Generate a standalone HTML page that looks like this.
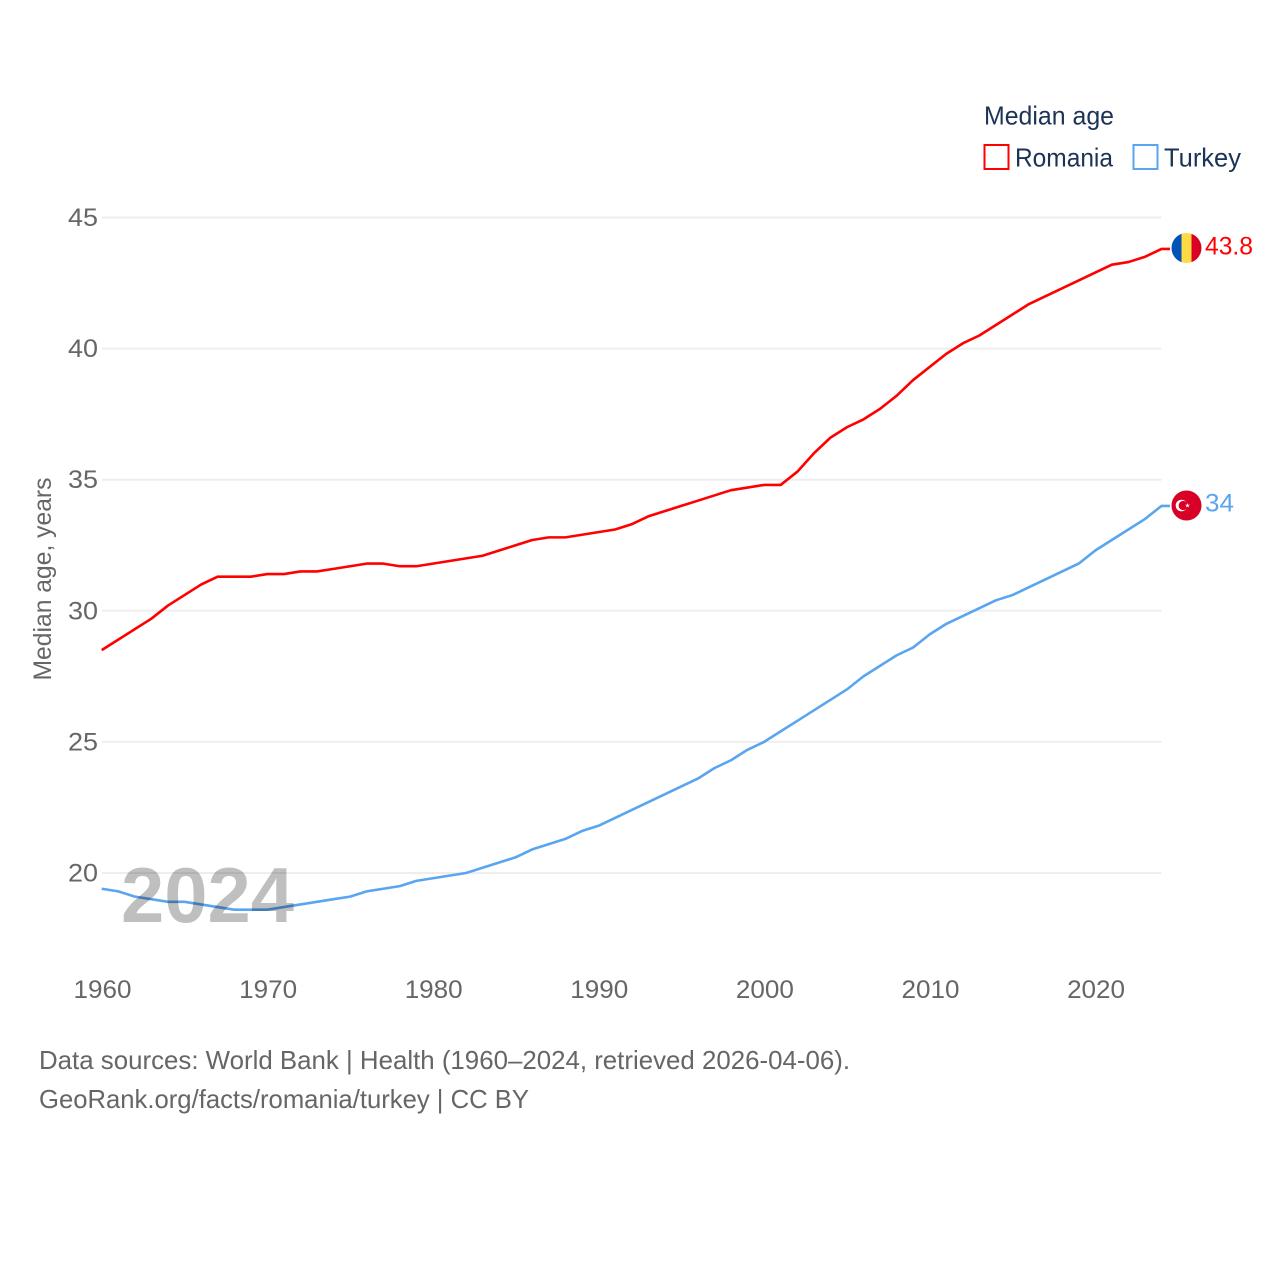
<!DOCTYPE html>
<html lang="en">
<head>
<meta charset="utf-8">
<title>Median age: Romania and Turkey</title>
<style>
html,body{margin:0;padding:0;background:#fff;width:1280px;height:1280px;overflow:hidden}
svg{display:block}
text{font-family:"Liberation Sans",sans-serif}
</style>
</head>
<body>
<svg id="chart" xmlns="http://www.w3.org/2000/svg" width="1280" height="1280" viewBox="0 0 1280 1280">
  <rect x="0" y="0" width="1280" height="1280" fill="#fff"/>
  <g id="grid"></g>
  <g id="y-ticks"></g>
  <g id="x-ticks"></g>
  <text transform="translate(51,579) rotate(-90)" text-anchor="middle" font-size="25" fill="#666" textLength="203" lengthAdjust="spacingAndGlyphs">Median age, years</text>
  <g id="series"></g>
  <text x="121" y="922" font-size="78" font-weight="700" fill="#000" fill-opacity="0.25" textLength="173" lengthAdjust="spacingAndGlyphs">2024</text>

  <g>
    <clipPath id="flag-ro"><circle cx="1186.5" cy="248" r="15"/></clipPath>
    <g clip-path="url(#flag-ro)">
      <rect x="1171" y="232" width="11" height="32" fill="#0052b4"/>
      <rect x="1181.500" y="232" width="10.500" height="32" fill="#ffda44"/>
      <rect x="1191.500" y="232" width="11" height="32" fill="#d80027"/>
    </g>
  </g>
  <g>
    <circle cx="1186.5" cy="505.5" r="15" fill="#d80027"/>
    <circle cx="1181.500" cy="505.5" r="5.800" fill="#fff"/>
    <circle cx="1183.200" cy="505.5" r="4.600" fill="#d80027"/>
    <polygon points="1187.500,503 1188.100,504.700 1189.900,504.700 1188.500,505.800 1189,507.500 1187.500,506.500 1186,507.500 1186.500,505.800 1185.100,504.700 1186.900,504.700" fill="#fff"/>
  </g>
  <text x="1205" y="254.500" font-size="25" fill="#ff0000" textLength="48" lengthAdjust="spacingAndGlyphs">43.8</text>
  <text x="1205" y="511.500" font-size="25" fill="#5aa5f0" textLength="29" lengthAdjust="spacingAndGlyphs">34</text>

  <g>
    <text x="984" y="124.500" font-size="26" fill="#1b3354" textLength="130" lengthAdjust="spacingAndGlyphs">Median age</text>
    <rect x="984.500" y="145" width="24" height="24" fill="#fff" stroke="#ff0000" stroke-width="2"/>
    <text x="1015" y="166.500" font-size="26" fill="#1b3354" textLength="98" lengthAdjust="spacingAndGlyphs">Romania</text>
    <rect x="1133.500" y="145" width="24" height="24" fill="#fff" stroke="#5aa5f0" stroke-width="2"/>
    <text x="1164" y="166.500" font-size="26" fill="#1b3354" textLength="77" lengthAdjust="spacingAndGlyphs">Turkey</text>
  </g>

  <text x="39" y="1069" font-size="26" fill="#666" textLength="811" lengthAdjust="spacingAndGlyphs">Data sources: World Bank | Health (1960–2024, retrieved 2026-04-06).</text>
  <text x="39" y="1108" font-size="26" fill="#666" textLength="490" lengthAdjust="spacingAndGlyphs">GeoRank.org/facts/romania/turkey | CC BY</text>
</svg>
<script>
const years = [1960,1961,1962,1963,1964,1965,1966,1967,1968,1969,1970,1971,1972,1973,1974,1975,1976,1977,1978,1979,1980,1981,1982,1983,1984,1985,1986,1987,1988,1989,1990,1991,1992,1993,1994,1995,1996,1997,1998,1999,2000,2001,2002,2003,2004,2005,2006,2007,2008,2009,2010,2011,2012,2013,2014,2015,2016,2017,2018,2019,2020,2021,2022,2023,2024];
const romania = [28.5,28.9,29.3,29.7,30.2,30.6,31.0,31.3,31.3,31.3,31.4,31.4,31.5,31.5,31.6,31.7,31.8,31.8,31.7,31.7,31.8,31.9,32.0,32.1,32.3,32.5,32.7,32.8,32.8,32.9,33.0,33.1,33.3,33.6,33.8,34.0,34.2,34.4,34.6,34.7,34.8,34.8,35.3,36.0,36.6,37.0,37.3,37.7,38.2,38.8,39.3,39.8,40.2,40.5,40.9,41.3,41.7,42.0,42.3,42.6,42.9,43.2,43.3,43.5,43.8];
const turkey = [19.4,19.3,19.1,19.0,18.9,18.9,18.8,18.7,18.6,18.6,18.6,18.7,18.8,18.9,19.0,19.1,19.3,19.4,19.5,19.7,19.8,19.9,20.0,20.2,20.4,20.6,20.9,21.1,21.3,21.6,21.8,22.1,22.4,22.7,23.0,23.3,23.6,24.0,24.3,24.7,25.0,25.4,25.8,26.2,26.6,27.0,27.5,27.9,28.3,28.6,29.1,29.5,29.8,30.1,30.4,30.6,30.9,31.2,31.5,31.8,32.3,32.7,33.1,33.5,34.0];
const yTicks = [20,25,30,35,40,45];
const xTicks = [1960,1970,1980,1990,2000,2010,2020];

const NS = 'http://www.w3.org/2000/svg';
const xScale = function (year) { return 101.7 + (year - 1960) * (1161.5 - 101.7) / 64; };
const yScale = function (v) { return 873 - (v - 20) * (873 - 217.500) / 25; };

const gridGroup = document.getElementById('grid');
const yGroup = document.getElementById('y-ticks');
const xGroup = document.getElementById('x-ticks');
const seriesGroup = document.getElementById('series');

yTicks.forEach(function (t) {
  const line = document.createElementNS(NS, 'line');
  
  
  line.setAttribute('x1', 102);
  line.setAttribute('x2', 1161.5);
  line.setAttribute('y1', yScale(t));
  line.setAttribute('y2', yScale(t));
  line.setAttribute('stroke', '#eeeeee');
  line.setAttribute('stroke-width', 2);
  gridGroup.appendChild(line);

  const label = document.createElementNS(NS, 'text');
  
  
  label.setAttribute('x', 98);
  label.setAttribute('y', yScale(t) + 8.5);
  label.setAttribute('text-anchor', 'end');
  label.setAttribute('font-size', 25);
  label.setAttribute('fill', '#666');
  label.setAttribute('textLength', 30);
  label.setAttribute('lengthAdjust', 'spacingAndGlyphs');
  label.textContent = t;
  yGroup.appendChild(label);
});

xTicks.forEach(function (t) {
  const label = document.createElementNS(NS, 'text');
  
  
  label.setAttribute('x', xScale(t) + 0.8);
  label.setAttribute('y', 998);
  label.setAttribute('text-anchor', 'middle');
  label.setAttribute('font-size', 25);
  label.setAttribute('fill', '#666');
  label.setAttribute('textLength', 58);
  label.setAttribute('lengthAdjust', 'spacingAndGlyphs');
  label.textContent = t;
  xGroup.appendChild(label);
});

function drawSeries(values, color) {
  let d = '';
  values.forEach(function (v, i) {
    d += (i === 0 ? 'M' : 'L') + xScale(years[i]).toFixed(2) + ' ' + yScale(v).toFixed(2);
  });
  d += 'H1170';
  const path = document.createElementNS(NS, 'path');
  path.setAttribute('d', d);
  path.setAttribute('fill', 'none');
  path.setAttribute('stroke', color);
  path.setAttribute('stroke-width', 2.6);
  path.setAttribute('stroke-linejoin', 'round');
  return path;
}

const romaniaLine = drawSeries(romania, '#ff0000');


seriesGroup.appendChild(romaniaLine);

const turkeyLine = drawSeries(turkey, '#5aa5f0');


seriesGroup.appendChild(turkeyLine);
</script>
</body>
</html>
